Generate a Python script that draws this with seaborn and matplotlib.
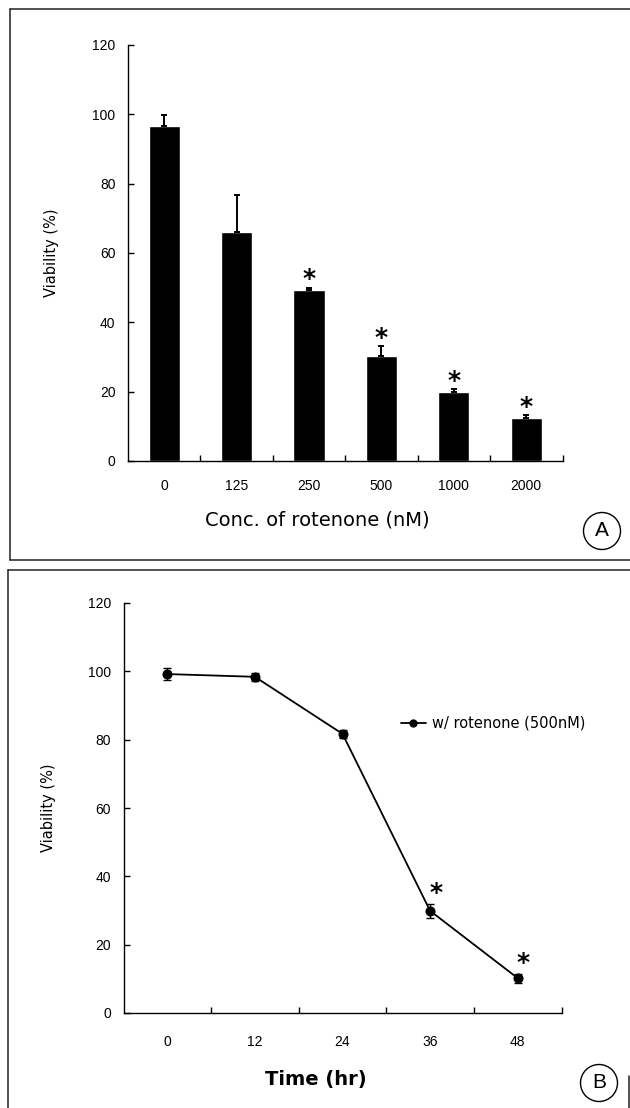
import numpy as np
import pandas as pd
import matplotlib
matplotlib.use("Agg")
import matplotlib.pyplot as plt
import seaborn as sns
from matplotlib.lines import Line2D
from matplotlib.patches import Ellipse

# ---------------- data ----------------
conc_labels = ["0", "125", "250", "500", "1000", "2000"]
viability_a = [96.5, 66.2, 49.4, 30.4, 20.0, 12.5]
err_a = [3.4, 10.4, 0.6, 2.7, 0.8, 0.8]
sig_a = [False, False, True, True, True, True]

time_b = [0, 12, 24, 36, 48]
viability_b = [99.2, 98.4, 81.7, 29.9, 10.2]
err_b = [1.7, 1.2, 1.2, 2.0, 1.3]
sig_b = [False, False, False, True, True]

y_ticks = [0, 20, 40, 60, 80, 100, 120]
legend_label = "w/ rotenone (500nM)"

# ---------------- style ----------------
sns.set_style("ticks")
plt.rcParams["font.family"] = ["DejaVu Sans"]
plt.rcParams["text.color"] = "black"
plt.rcParams["axes.labelcolor"] = "black"
plt.rcParams["xtick.color"] = "black"
plt.rcParams["ytick.color"] = "black"

W, H = 630, 1108
fig = plt.figure(figsize=(W / 100, H / 100), dpi=100)


def fx(x):
    return x / W


def fy(y):
    return 1 - y / H


TICK_FONT = ["Liberation Sans", "DejaVu Sans"]


def style_axes(ax):
    sns.despine(ax=ax)
    for s in ["left", "bottom"]:
        ax.spines[s].set_linewidth(1.0)
        ax.spines[s].set_color("black")
    ax.set_ylim(0, 120)
    ax.set_yticks(y_ticks)
    ax.tick_params(axis="y", which="major", direction="in", length=4.5,
                   width=1.0, pad=9, labelsize=10, colors="black")
    ax.tick_params(axis="x", which="major", length=0, labelsize=10, colors="black")
    ax.tick_params(axis="x", which="minor", direction="in", length=4.5, width=1.0)
    for lab in ax.get_xticklabels() + ax.get_yticklabels():
        lab.set_fontfamily(TICK_FONT)


# ---------------- panel A ----------------
axA = fig.add_axes([fx(128), fy(461), (562.5 - 128) / W, (461 - 45) / H])
df_a = pd.DataFrame({"conc": conc_labels, "viability": viability_a})
sns.barplot(data=df_a, x="conc", y="viability", color="black", saturation=1,
            width=0.43, errorbar=None, ax=axA)
xa = np.arange(len(conc_labels))
axA.errorbar(xa, viability_a, yerr=[np.zeros(len(err_a)), err_a], fmt="none",
             ecolor="black", elinewidth=1.4, capsize=2.5, capthick=1.4)
for i, (v, e, s) in enumerate(zip(viability_a, err_a, sig_a)):
    if s:
        axA.text(i, v + e + 2.4, "*", ha="center", va="center", fontsize=18,
                 fontweight="bold")
axA.set_xlim(-0.5, len(conc_labels) - 0.5)
axA.set_xticks(np.arange(0.5, len(conc_labels), 1), minor=True)
style_axes(axA)
axA.tick_params(axis="x", which="major", pad=13)
axA.set_xlabel("Conc. of rotenone (nM)", fontsize=14, va="center")
axA.xaxis.set_label_coords(0.435, -0.142)
axA.set_ylabel("Viability (%)", fontsize=10.5, va="center")
axA.yaxis.set_label_coords(-0.175, 0.5)

# ---------------- panel B ----------------
axB = fig.add_axes([fx(123.5), fy(1013), (561.5 - 123.5) / W, (1013 - 603) / H])
df_b = pd.DataFrame({"time": time_b, "viability": viability_b})
sns.lineplot(data=df_b, x="time", y="viability", color="black", marker="o",
             markersize=6.5, markeredgecolor="black", linewidth=1.3,
             label=legend_label, ax=axB)
axB.errorbar(time_b, viability_b, yerr=err_b, fmt="none", ecolor="black",
             elinewidth=1.0, capsize=3, capthick=1.0)
for t, v, e, s in zip(time_b, viability_b, err_b, sig_b):
    if s:
        axB.text(t + 0.8, v + e + 3.2, "*", ha="center", va="center", fontsize=18,
                 fontweight="bold")
axB.set_xlim(-6, 54)
axB.set_xticks(time_b)
axB.set_xticks([6, 18, 30, 42, 54], minor=True)
style_axes(axB)
axB.tick_params(axis="x", which="major", pad=16)
axB.set_xlabel("Time (hr)", fontsize=14, fontweight="bold", va="center")
axB.xaxis.set_label_coords(0.44, -0.161)
axB.set_ylabel("Viability (%)", fontsize=10.5, va="center")
axB.yaxis.set_label_coords(-0.172, 0.5)
axB.legend(loc="center left", bbox_to_anchor=(0.633, 0.707), frameon=False,
           handlelength=1.7, handletextpad=0.45, borderpad=0, borderaxespad=0,
           fontsize=10.5, markerscale=0.8)

# ---------------- panel frames and letters ----------------
frame_kw = dict(transform=fig.transFigure, color="#222222", linewidth=1.1)
fig.add_artist(Line2D([fx(10), fx(630)], [fy(9), fy(9)], **frame_kw))
fig.add_artist(Line2D([fx(10), fx(10)], [fy(9), fy(560)], **frame_kw))
fig.add_artist(Line2D([fx(10), fx(630)], [fy(560), fy(560)], **frame_kw))
fig.add_artist(Line2D([fx(8), fx(630)], [fy(570), fy(570)], **frame_kw))
fig.add_artist(Line2D([fx(8), fx(8)], [fy(570), fy(1108)], **frame_kw))
fig.add_artist(Line2D([fx(629), fx(629)], [fy(1076), fy(1108)], **frame_kw))

for letter, (cx, cy) in {"A": (602, 531), "B": (599, 1083)}.items():
    fig.add_artist(Ellipse((fx(cx), fy(cy)), 37 / W, 37 / H,
                           transform=fig.transFigure, fill=False,
                           edgecolor="black", linewidth=1.0))
    fig.text(fx(cx), fy(cy), letter, ha="center", va="center", fontsize=15,
             fontfamily=TICK_FONT)

fig.savefig("out.png", dpi=100)
